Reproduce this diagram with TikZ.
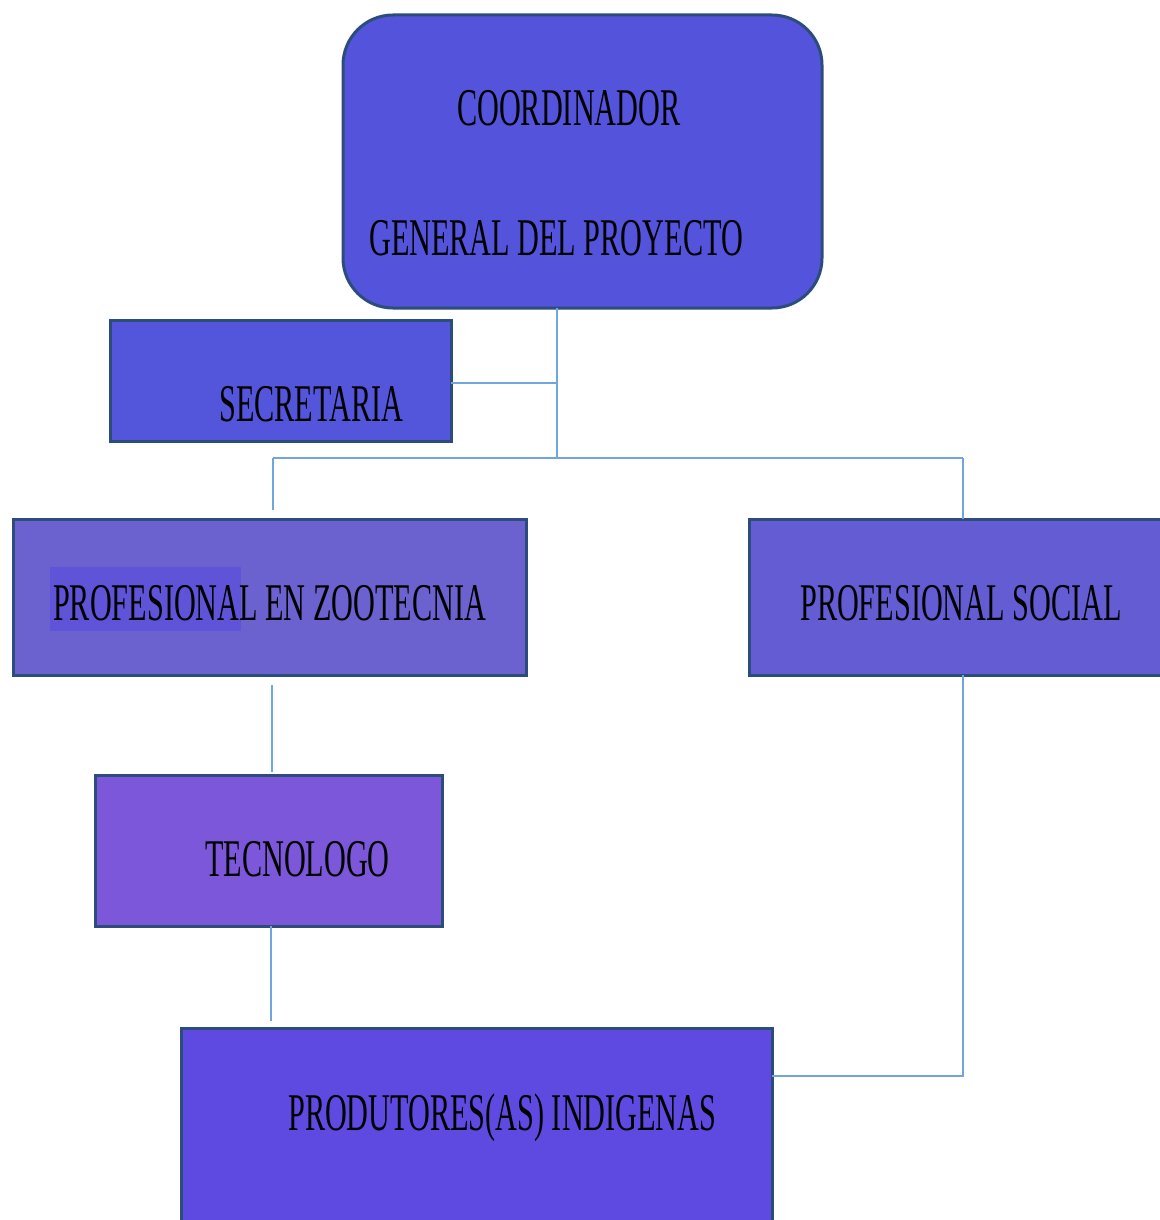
\documentclass[tikz,border=0pt]{standalone}
\usepackage{fontspec}
\newfontfamily\lblfont[FakeStretch=0.57]{Liberation Serif}
\definecolor{boxline}{HTML}{2C4C7C}
\definecolor{connblue}{HTML}{6FA6DC}
\definecolor{cCoord}{HTML}{5354DB}
\definecolor{cSec}{HTML}{5355DB}
\definecolor{cZoo}{HTML}{6B62CF}
\definecolor{cZooHi}{HTML}{5F54D8}
\definecolor{cSoc}{HTML}{635CD3}
\definecolor{cTec}{HTML}{7C57D9}
\definecolor{cProd}{HTML}{5E4AE0}
\begin{document}
\begin{tikzpicture}[x=1pt,y=-1pt,
  box/.style={draw=boxline, line width=3pt, inner sep=0pt, outer sep=0pt},
  lbl/.style={font=\lblfont\fontsize{53}{60}\selectfont, inner sep=0pt, text=black, anchor=base west},
  conn/.style={draw=connblue, line width=2pt}]
\useasboundingbox (0,0) rectangle (1159,1220);
% boxes
\node[box, fill=cCoord, rounded corners=50pt, minimum width=479pt, minimum height=293pt] (coord) at (582.5,161.5) {};
\node[box, fill=cSec, minimum width=341pt, minimum height=121pt] (sec) at (280.5,380.5) {};
\node[box, fill=cZoo, minimum width=513pt, minimum height=156pt] (zoo) at (269.5,597) {};
\node[box, fill=cSoc, minimum width=460pt, minimum height=156pt] (soc) at (979,597) {};
\node[box, fill=cTec, minimum width=347pt, minimum height=151pt] (tec) at (268.5,850.5) {};
\node[box, fill=cProd, minimum width=591pt, minimum height=240pt] (prod) at (476.5,1148) {};
% connectors
\coordinate (j1) at (557,383);
\coordinate (j2) at (557,458);
\coordinate (zl) at (273,458);
\coordinate (sr) at (963,458);
\coordinate (sc) at (963,1076);
\coordinate (zx) at (272,0);
\coordinate (tx) at (271,0);
\draw[conn] (coord.south -| j1) -- (j2);
\draw[conn] (sec.east |- j1) -- (j1);
\draw[conn] (zl) -- (sr);
\draw[conn, shorten >=9pt] (zl) -- (zoo.north -| zl);
\draw[conn] (sr) -- (soc.north -| sr);
\draw[conn] (soc.south -| sc) -- (sc) -- (prod.east |- sc);
\draw[conn, shorten <=10pt, shorten >=3pt] (zoo.south -| zx) -- (tec.north -| zx);
\draw[conn, shorten >=7pt] (tec.south -| tx) -- (prod.north -| tx);
% highlight behind PROFESIONAL
\fill[cZooHi] (50,567) rectangle (241,631);
% labels
\node[lbl] (lc1) at (457,126) {COORDINADOR};
\node[lbl] (lc2) at (369,255) {GENERAL DEL PROYECTO};
\node[lbl] (ls) at (219,421) {SECRETARIA};
\node[lbl] (lz) at (53,620) {PROFESIONAL EN ZOOTECNIA};
\node[lbl] (lso) at (800,620) {PROFESIONAL SOCIAL};
\node[lbl] (lt) at (205,876) {TECNOLOGO};
\node[lbl] (lp) at (288,1130) {PRODUTORES(AS) INDIGENAS};
\end{tikzpicture}
\end{document}
